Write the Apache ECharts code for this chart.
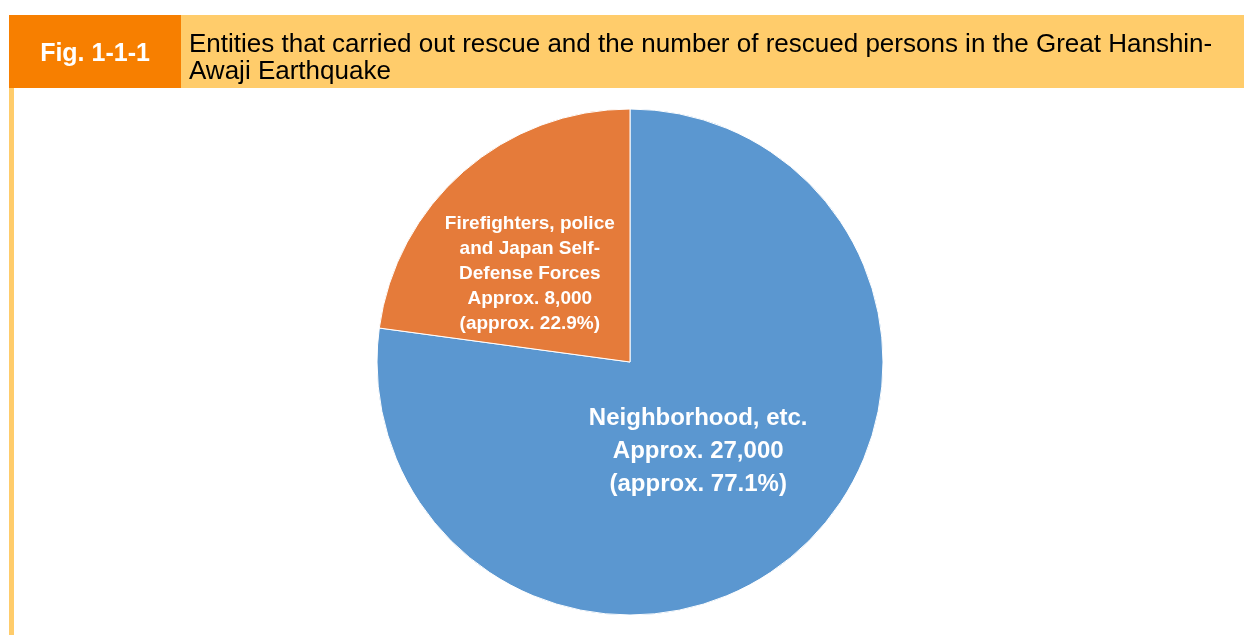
<!DOCTYPE html>
<html><head><meta charset="utf-8">
<script src="https://cdn.jsdelivr.net/npm/echarts@6/dist/echarts.min.js"></script>
<style>html,body{margin:0;padding:0;background:#fff}#c{width:1244px;height:635px}</style>
</head><body><div id="c"></div>
<script>
const categories = ['Neighborhood, etc.', 'Firefighters, police\nand Japan Self-\nDefense Forces'];
const values = [27000, 8000];
const percents = ['77.1%', '22.9%'];
const valueText = ['27,000', '8,000'];
const colors = ['#5B97D0', '#E57B3A'];

const chart = echarts.init(document.getElementById('c'));
const FONT = '"Liberation Sans", Arial, sans-serif';
chart.setOption({
  backgroundColor: '#fff',
  animation: false,
  graphic: [
    {type:'rect', shape:{x:181,y:15,width:1063,height:73}, style:{fill:'#FFCC6B'}},
    {type:'rect', shape:{x:9,y:15,width:172,height:73}, style:{fill:'#F77F00'}},
    {type:'rect', shape:{x:9,y:88,width:5,height:547}, style:{fill:'#FFCC6B'}},
    {type:'text', x:95, y:54, style:{text:'Fig. 1-1-1', fill:'#fff', font:'bold 25px ' + FONT, textAlign:'center', textVerticalAlign:'middle'}},
    {type:'text', x:189, y:45, style:{text:'Entities that carried out rescue and the number of rescued persons in the Great Hanshin-', fill:'#000', font:'26px ' + FONT, textAlign:'left', textVerticalAlign:'middle'}},
    {type:'text', x:189, y:72, style:{text:'Awaji Earthquake', fill:'#000', font:'26px ' + FONT, textAlign:'left', textVerticalAlign:'middle'}}
  ],
  series: [{
    type: 'pie',
    center: [630, 362],
    radius: 253,
    startAngle: 90,
    clockwise: true,
    silent: true,
    itemStyle: {borderColor:'#fff', borderWidth:1},
    data: categories.map((n, i) => ({
      name: n, value: values[i],
      itemStyle: {color: colors[i]},
      label: i === 0
        ? {fontSize: 24, lineHeight: 33}
        : {fontSize: 19, lineHeight: 25}
    })),
    label: {
      show: true, position: 'inside', color: '#fff', fontWeight: 'bold', fontFamily: FONT, align: 'center',
      formatter: p => p.name + '\nApprox. ' + valueText[p.dataIndex] + '\n(approx. ' + percents[p.dataIndex] + ')'
    },
    labelLayout: p => p.dataIndex === 0 ? {dx: -17, dy: -8} : {dx: -15, dy: 9},
    labelLine: {show: false}
  }]
});
</script></body></html>
